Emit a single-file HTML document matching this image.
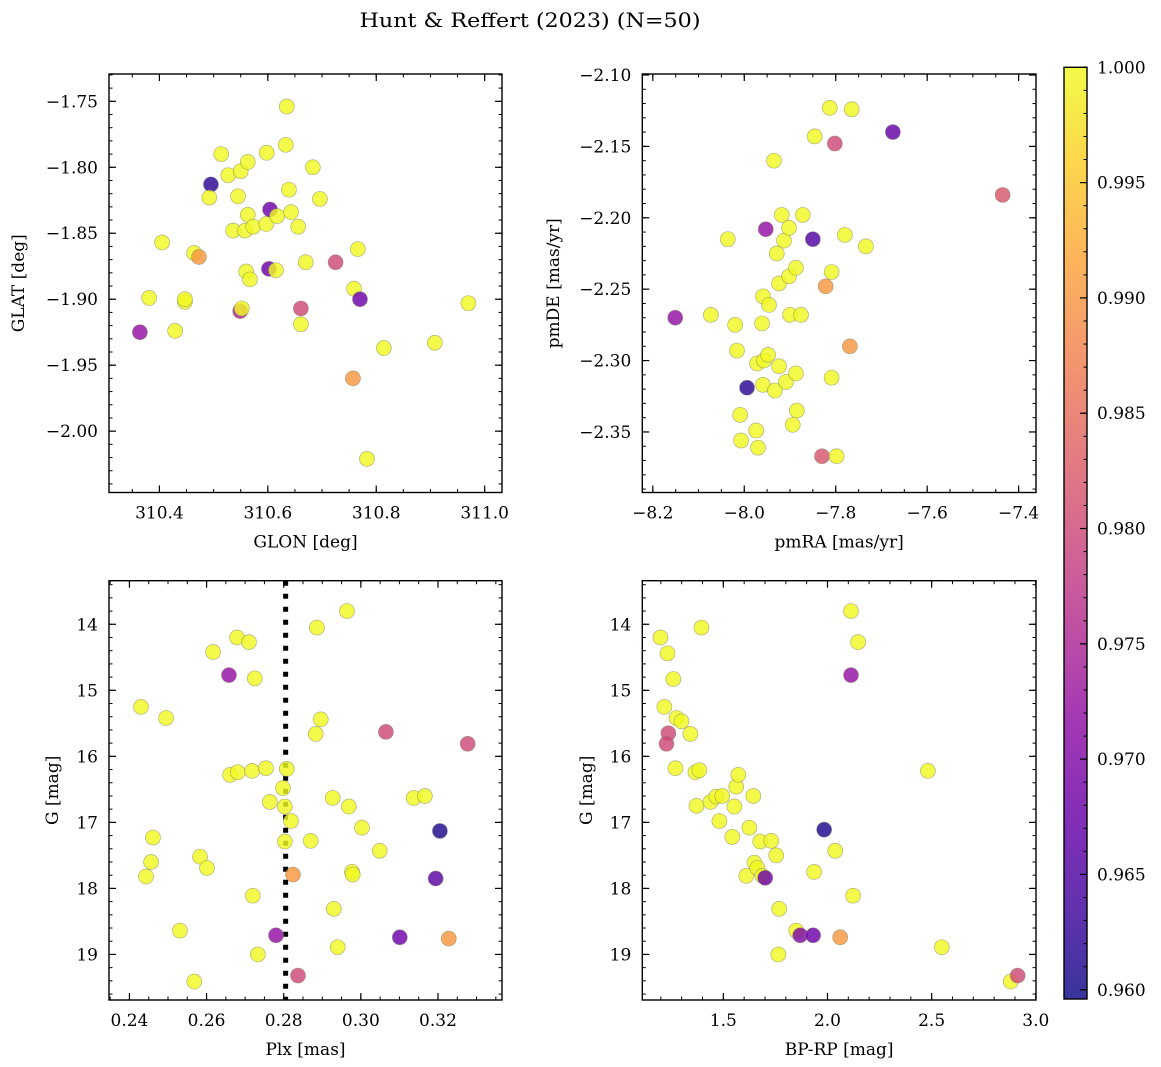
<!DOCTYPE html>
<html><head><meta charset="utf-8">
<style>
html,body{margin:0;padding:0;background:#fff;}
svg{display:block;font-family:"DejaVu Serif","Liberation Serif",serif;}
</style></head>
<body>
<svg id="fig" width="1161" height="1067" viewBox="0 0 1161 1067" xmlns="http://www.w3.org/2000/svg">
<text x="530" y="27" text-anchor="middle" font-size="20" textLength="341" lengthAdjust="spacingAndGlyphs">Hunt &amp; Reffert (2023) (N=50)</text>
</svg>
<script>
// ---------- data ----------
const glon = [310.364,310.381,310.405,310.429,310.447,310.447,310.464,310.473,310.495,310.492,310.514,310.527,310.536,310.545,310.550,310.549,310.552,310.558,310.560,310.563,310.563,310.567,310.573,310.597,310.598,310.602,310.604,310.615,310.617,310.633,310.635,310.639,310.643,310.656,310.661,310.661,310.670,310.683,310.696,310.725,310.759,310.766,310.770,310.757,310.783,310.814,310.908,310.970];
const glat = [-1.925,-1.899,-1.857,-1.924,-1.902,-1.900,-1.865,-1.868,-1.813,-1.823,-1.790,-1.806,-1.848,-1.822,-1.803,-1.909,-1.907,-1.848,-1.879,-1.796,-1.836,-1.885,-1.845,-1.843,-1.789,-1.877,-1.832,-1.878,-1.837,-1.783,-1.754,-1.817,-1.834,-1.845,-1.907,-1.919,-1.872,-1.800,-1.824,-1.872,-1.892,-1.862,-1.900,-1.960,-2.021,-1.937,-1.933,-1.903];
const probPos = [0.972,1,1,1,1,1,1,0.99,0.962,1,1,1,1,1,1,0.975,1,1,1,1,1,1,1,1,1,0.968,0.968,1,1,1,1,1,1,1,0.98,1,1,1,1,0.98,1,1,0.968,0.99,1,1,1,1];

const pmra = [-8.151,-8.073,-8.036,-8.020,-8.016,-8.009,-8.007,-7.994,-7.974,-7.970,-7.972,-7.959,-7.961,-7.959,-7.957,-7.953,-7.948,-7.946,-7.935,-7.933,-7.929,-7.924,-7.924,-7.918,-7.913,-7.909,-7.902,-7.902,-7.900,-7.894,-7.887,-7.887,-7.885,-7.876,-7.872,-7.850,-7.846,-7.830,-7.822,-7.813,-7.809,-7.809,-7.802,-7.798,-7.780,-7.769,-7.765,-7.734,-7.675,-7.435];
const pmde = [-2.270,-2.268,-2.215,-2.275,-2.293,-2.338,-2.356,-2.319,-2.349,-2.361,-2.302,-2.255,-2.274,-2.317,-2.300,-2.208,-2.296,-2.261,-2.160,-2.321,-2.225,-2.304,-2.246,-2.198,-2.216,-2.315,-2.241,-2.207,-2.268,-2.345,-2.309,-2.235,-2.335,-2.268,-2.198,-2.215,-2.143,-2.367,-2.248,-2.123,-2.238,-2.312,-2.148,-2.367,-2.212,-2.290,-2.124,-2.220,-2.140,-2.184];
const probPm = [0.972,1,1,1,1,1,1,0.962,1,1,1,1,1,1,1,0.972,1,1,1,1,1,1,1,1,1,1,1,1,1,1,1,1,1,1,1,0.965,1,0.982,0.99,1,1,1,0.98,1,1,0.99,1,1,0.967,0.982];

const plx = [0.2430,0.2443,0.2456,0.2461,0.2495,0.2531,0.2568,0.2583,0.2601,0.2617,0.2658,0.2661,0.2679,0.2681,0.2710,0.2718,0.2720,0.2725,0.2733,0.2754,0.2764,0.2780,0.2798,0.2803,0.2803,0.2808,0.2819,0.2824,0.2837,0.2870,0.2883,0.2886,0.2896,0.2927,0.2930,0.2940,0.2964,0.2969,0.2977,0.2979,0.3003,0.3049,0.3065,0.3101,0.3137,0.3166,0.3194,0.3205,0.3228,0.3277];
const gPlx = [15.25,17.82,17.60,17.23,15.42,18.64,19.41,17.52,17.69,14.42,14.77,16.28,14.20,16.24,14.27,16.22,18.11,14.82,19.00,16.18,16.69,18.71,16.48,16.76,17.29,16.19,16.98,17.79,19.32,17.28,15.66,14.05,15.44,16.63,18.31,18.89,13.80,16.76,17.75,17.79,17.08,17.43,15.63,18.74,16.63,16.60,17.85,17.13,18.76,15.81];
const probPlx = [1,1,1,1,1,1,1,1,1,1,0.972,1,1,1,1,1,1,1,1,1,1,0.972,1,1,1,1,1,0.99,0.98,1,1,1,1,1,1,1,1,1,1,1,1,1,0.98,0.968,1,1,0.966,0.961,0.99,0.98];
const plxRef = [0.2805];

const bprp = [1.198,1.232,1.260,1.217,1.236,1.227,1.270,1.275,1.299,1.342,1.366,1.385,1.395,1.371,1.438,1.466,1.481,1.495,1.543,1.553,1.562,1.572,1.610,1.625,1.644,1.649,1.663,1.677,1.687,1.701,1.730,1.754,1.764,1.768,1.850,1.869,1.931,1.984,1.936,2.037,2.061,2.113,2.113,2.123,2.147,2.482,2.549,2.880,2.913];
const gCol = [14.20,14.44,14.83,15.25,15.65,15.81,16.18,15.42,15.47,15.66,16.24,16.21,14.05,16.75,16.69,16.61,16.98,16.60,17.22,16.76,16.46,16.28,17.81,17.08,16.60,17.61,17.69,17.29,17.81,17.84,17.28,17.50,19.00,18.31,18.64,18.71,18.71,17.11,17.75,17.43,18.74,13.80,14.77,18.11,14.27,16.22,18.89,19.41,19.32];
const probCol = [1,1,1,1,0.98,0.98,1,1,1,1,1,1,1,1,1,1,1,1,1,1,1,1,1,1,1,1,1,1,1,0.968,1,1,1,1,1,0.97,0.968,0.961,1,1,0.99,1,0.972,1,1,1,1,1,0.98];

const ticksGlon = [310.4,310.6,310.8,311.0];
const ticksGlat = [-1.75,-1.80,-1.85,-1.90,-1.95,-2.00];
const ticksPmra = [-8.2,-8.0,-7.8,-7.6,-7.4];
const ticksPmde = [-2.10,-2.15,-2.20,-2.25,-2.30,-2.35];
const ticksPlx = [0.24,0.26,0.28,0.30,0.32];
const ticksG = [14,15,16,17,18,19];
const ticksBprp = [1.5,2.0,2.5,3.0];
const ticksCbar = [0.960,0.965,0.970,0.975,0.980,0.985,0.990,0.995,1.000];

// ---------- helpers ----------
const NS = "http://www.w3.org/2000/svg";
const svg = document.getElementById('fig');
function mk(tag, attrs, parent){ const e=document.createElementNS(NS,tag); for(const k in attrs) e.setAttribute(k,attrs[k]); (parent||svg).appendChild(e); return e; }
const stops=[[13,8,135],[65,4,157],[106,0,168],[143,13,164],[177,42,144],[204,71,120],[225,100,98],[242,132,75],[252,166,54],[252,206,37],[240,249,33]];
function plasma(t){ t=Math.max(0,Math.min(1,t)); const f=t*10, i=Math.min(9,Math.floor(f)), u=f-i; const a=stops[i], b=stops[i+1]; return 'rgb('+[0,1,2].map(k=>Math.round(a[k]+(b[k]-a[k])*u)).join(',')+')'; }
const PMIN=0.9596, PMAX=1.0;
function colorOf(p){ return plasma((p-PMIN)/(PMAX-PMIN)); }

function axes(cfg){
  const g = mk('g',{});
  
  
  const {x0,x1,y0,y1,xmin,xmax,ymin,ymax,invertY}=cfg;
  const sx=v=>x0+(v-xmin)/(xmax-xmin)*(x1-x0);
  const sy=invertY? (v=>y0+(v-ymin)/(ymax-ymin)*(y1-y0)) : (v=>y1-(v-ymin)/(ymax-ymin)*(y1-y0));
  // minor ticks
  const eps=1e-9;
  function minor(start, step, lo, hi, fn){ const n0=Math.ceil((lo-start)/step-eps); for(let k=n0; start+k*step<=hi+eps; k++){ fn(start+k*step);} }
  minor(cfg.xticks[0], cfg.xminor, xmin, xmax, v=>{ const x=sx(v); mk('line',{x1:x,x2:x,y1:y1,y2:y1-3.5,stroke:'#000','stroke-width':1},g); mk('line',{x1:x,x2:x,y1:y0,y2:y0+3.5,stroke:'#000','stroke-width':1},g); });
  minor(cfg.yticks[0], cfg.yminor, Math.min(ymin,ymax), Math.max(ymin,ymax), v=>{ const y=sy(v); mk('line',{x1:x0,x2:x0+3.5,y1:y,y2:y,stroke:'#000','stroke-width':1},g); mk('line',{x1:x1,x2:x1-3.5,y1:y,y2:y,stroke:'#000','stroke-width':1},g); });
  cfg.xticks.forEach(v=>{ const x=sx(v);
    mk('line',{x1:x,x2:x,y1:y1,y2:y1-7,stroke:'#000','stroke-width':1.2},g);
    mk('line',{x1:x,x2:x,y1:y0,y2:y0+7,stroke:'#000','stroke-width':1.2},g);
    const t=mk('text',{x:x,y:y1+26,'text-anchor':'middle','font-size':17},g);
    
    
    t.textContent=cfg.xfmt(v);
  });
  cfg.yticks.forEach(v=>{ const y=sy(v);
    mk('line',{x1:x0,x2:x0+7,y1:y,y2:y,stroke:'#000','stroke-width':1.2},g);
    mk('line',{x1:x1,x2:x1-7,y1:y,y2:y,stroke:'#000','stroke-width':1.2},g);
    const t=mk('text',{x:x0-11,y:y+6,'text-anchor':'end','font-size':17},g);
    
    
    t.textContent=cfg.yfmt(v);
  });
  if(cfg.extra) cfg.extra(g,sx,sy);
  cfg.xs.forEach((xv,i)=>{
    const c=mk('circle',{cx:sx(xv),cy:sy(cfg.ys[i]),r:7.5,fill:colorOf(cfg.ps[i]),'fill-opacity':0.82,stroke:'#808060','stroke-opacity':0.6,'stroke-width':0.7},g);
    
    
  });
  mk('rect',{x:x0,y:y0,width:x1-x0,height:y1-y0,fill:'none',stroke:'#000','stroke-width':1.4},g);
  const xl=mk('text',{x:(x0+x1)/2,y:y1+55,'text-anchor':'middle','font-size':17},g);
  
  
  xl.textContent=cfg.xlabel;
  const yx=cfg.ylabelX, yy=(y0+y1)/2;
  const yl=mk('text',{x:yx,y:yy,'text-anchor':'middle','font-size':17,transform:'rotate(-90 '+yx+' '+yy+')'},g);
  
  
  yl.textContent=cfg.ylabel;
}
const minus=s=>s.replace('-','\u2212');

axes({name:'sky-position-panel',x0:109,x1:502,y0:74,y1:492.5,xmin:310.307,xmax:311.032,ymin:-2.0465,ymax:-1.7293,
  xticks:ticksGlon,yticks:ticksGlat,xminor:0.05,yminor:0.01,xfmt:v=>v.toFixed(1),yfmt:v=>minus(v.toFixed(2)),
  xs:glon,ys:glat,ps:probPos,xlabel:'GLON [deg]',ylabel:'GLAT [deg]',ylabelX:24});
axes({name:'proper-motion-panel',x0:642.3,x1:1036,y0:74,y1:492.5,xmin:-8.223,xmax:-7.362,ymin:-2.3924,ymax:-2.0993,
  xticks:ticksPmra,yticks:ticksPmde,xminor:0.05,yminor:0.01,xfmt:v=>minus(v.toFixed(1)),yfmt:v=>minus(v.toFixed(2)),
  xs:pmra,ys:pmde,ps:probPm,xlabel:'pmRA [mas/yr]',ylabel:'pmDE [mas/yr]',ylabelX:559});
axes({name:'parallax-magnitude-panel',x0:109,x1:502,y0:580.7,y1:1000,xmin:0.2347,xmax:0.3366,ymin:13.34,ymax:19.69,invertY:true,
  xticks:ticksPlx,yticks:ticksG,xminor:0.005,yminor:0.2,xfmt:v=>v.toFixed(2),yfmt:v=>String(v),
  xs:plx,ys:gPlx,ps:probPlx,xlabel:'Plx [mas]',ylabel:'G [mag]',ylabelX:58,
  extra:(g,sx,sy)=>{ plxRef.forEach(v=>{ const l=mk('line',{x1:sx(v),x2:sx(v),y1:580.7,y2:1000,stroke:'#000','stroke-width':5,'stroke-dasharray':'5 8'},g);   }); }});
axes({name:'color-magnitude-panel',x0:642.3,x1:1036,y0:580.7,y1:1000,xmin:1.111,xmax:3.001,ymin:13.34,ymax:19.69,invertY:true,
  xticks:ticksBprp,yticks:ticksG,xminor:0.1,yminor:0.2,xfmt:v=>v.toFixed(1),yfmt:v=>String(v),
  xs:bprp,ys:gCol,ps:probCol,xlabel:'BP-RP [mag]',ylabel:'G [mag]',ylabelX:592});

// ---------- colorbar ----------
(function(){
  const cx0=1064, cx1=1087, cy0=67.3, cy1=999;
  const g=mk('g',{});
  
  
  const defs=mk('defs',{},g);
  const lg=mk('linearGradient',{id:'cbg',x1:0,y1:1,x2:0,y2:0},defs);
  for(let i=0;i<=20;i++){ mk('stop',{offset:(i/20),'stop-color':plasma(i/20),'stop-opacity':0.82},lg); }
  mk('rect',{x:cx0,y:cy0,width:cx1-cx0,height:cy1-cy0,fill:'url(#cbg)'},g);
  const sy=v=>cy1-(v-PMIN)/(PMAX-PMIN)*(cy1-cy0);
  for(let v=0.960; v<=1.00001; v+=0.001){ const y=sy(v); mk('line',{x1:cx1,x2:cx1-3.5,y1:y,y2:y,stroke:'#000','stroke-width':1},g); }
  ticksCbar.forEach(v=>{ const y=sy(v);
    mk('line',{x1:cx1,x2:cx1-7,y1:y,y2:y,stroke:'#000','stroke-width':1.2},g);
    const t=mk('text',{x:1097,y:y+6,'font-size':17},g);
    
    
    t.textContent=v.toFixed(3);
  });
  mk('rect',{x:cx0,y:cy0,width:cx1-cx0,height:cy1-cy0,fill:'none',stroke:'#000','stroke-width':1.4},g);
})();
</script>
</body></html>
